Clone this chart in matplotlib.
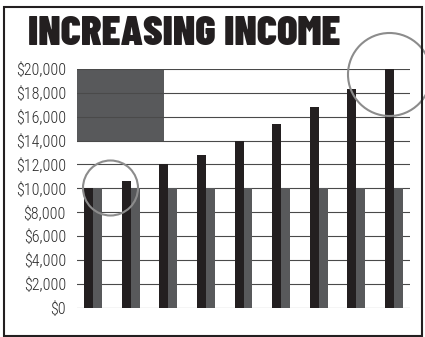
import matplotlib
matplotlib.use("Agg")
from matplotlib import pyplot as plt
from matplotlib.patches import Rectangle, Ellipse
from matplotlib.ticker import FuncFormatter
import numpy as np

# data
years = list(range(1, 10))
income = [10000, 10600, 12000, 12800, 14000, 15350, 16800, 18350, 20000]
baseline = [10000] * 9
yticks = list(range(0, 20001, 2000))

BLACK = "#231f20"
GREY = "#58595b"

W, H = 425, 337
fig = plt.figure(figsize=(W / 100, H / 100), dpi=100)
ax = fig.add_axes([77 / W, 1 - 307.5 / H, 333 / W, 238.5 / H])

x = np.arange(len(years))
bw = 0.235
ax.bar(x - bw / 2, income, width=bw, color=BLACK, zorder=3)
ax.bar(x + bw / 2, baseline, width=bw, color=GREY, zorder=3)

# dark box in the upper left corner
ax.axhspan(14000, 20000, xmin=0, xmax=87 / 333, color=GREY, lw=0, zorder=1)

ax.set_xlim(-0.43, len(years) - 1 + 0.43)
ax.set_ylim(0, 20000)
ax.set_yticks(yticks)
ax.yaxis.set_major_formatter(FuncFormatter(lambda v, p: f"${int(v):,}"))
ax.set_xticks([])
for s in ax.spines.values():
    s.set_visible(False)
ax.tick_params(axis="y", length=0, pad=8, labelsize=11.5, labelcolor="#2a2a2a")
for lab in ax.get_yticklabels():
    lab.set_fontfamily(["Roboto Condensed", "DejaVu Sans"])
    lab.set_fontweight(300)
for v in yticks:
    ax.axhline(v, color="#4a4a4a", lw=0.8, zorder=2)

fig.text(28 / W, 1 - 45 / H, "INCREASING INCOME", fontsize=30.5,
         family=["Barlow Condensed", "DejaVu Sans"], weight=900,
         color=BLACK, ha="left", va="baseline")

# highlight circles
fig.add_artist(Ellipse((110.5 / W, 1 - 188 / H), 55 / W, 55 / H, fill=False,
                       ec="#8c8c8c", lw=1.5, transform=fig.transFigure, zorder=5))
fig.add_artist(Ellipse((389.5 / W, 1 - 74.5 / H), 83 / W, 83 / H, fill=False,
                       ec="#8c8c8c", lw=1.5, transform=fig.transFigure, zorder=5))

# frame round the graphic
fig.add_artist(Rectangle((4 / W, 1 - 336 / H), 418 / W, 329 / H, fill=False,
                         ec=BLACK, lw=1.5, transform=fig.transFigure, zorder=6))

fig.savefig("out.png", dpi=100)
